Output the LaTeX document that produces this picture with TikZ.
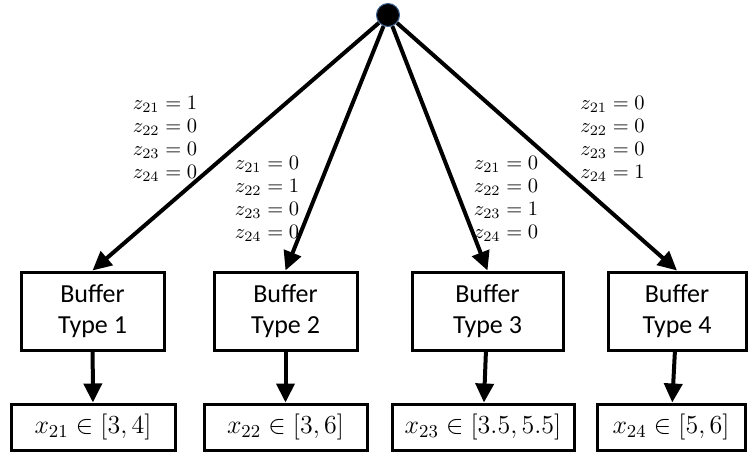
\documentclass[tikz,border=0pt]{standalone}
\usepackage{fix-cm}
\usepackage{fontspec}
\usepackage{tikz}
\usetikzlibrary{arrows.meta}
\newfontfamily\calibri{Carlito}
\definecolor{rootedge}{RGB}{56,93,138}

\begin{document}
\begin{tikzpicture}[x=0.5pt, y=-0.5pt,
        buffer/.style={draw, line width=1.5pt, minimum height=39pt, inner sep=0pt, align=center, font=\calibri\fontsize{13}{15.5}\selectfont},
        value/.style={draw, line width=1.5pt, minimum height=23pt, inner sep=0pt, font=\fontsize{13}{15.5}\selectfont},
        zlabel/.style={align=left, inner sep=0pt, font=\fontsize{10.25}{11.6}\selectfont},
        link/.style={line width=2pt, -{Triangle[length=9.5pt, width=9pt]}}]
        \useasboundingbox (0,0) rectangle (751,451);

        \node[circle, fill=black, draw=rootedge, line width=0.5pt, minimum size=11.5pt, inner sep=0pt] (root) at (388,15) {};

        % buffer types
        \node[buffer, minimum width=71.5pt] (b1) at (92.5,311) {Buffer\\Type 1};
        \node[buffer, minimum width=71.5pt] (b2) at (285.5,311) {Buffer\\Type 2};
        \node[buffer, minimum width=75.5pt] (b3) at (487.5,311) {Buffer\\Type 3};
        \node[buffer, minimum width=69pt] (b4) at (677,311) {Buffer\\Type 4};

        % ranges
        \node[value, minimum width=82pt] (v1) at (93,427) {$x_{21}\in[3,4]$};
        \node[value, minimum width=81.5pt] (v2) at (285.5,427) {$x_{22}\in[3,6]$};
        \node[value, minimum width=91pt] (v3) at (483,427) {$x_{23}\in[3.5,5.5]$};
        \node[value, minimum width=74pt] (v4) at (671,427) {$x_{24}\in[5,6]$};

        % choices
        \node[zlabel] (z1) at (165,139) {$z_{21}=1$\\$z_{22}=0$\\$z_{23}=0$\\$z_{24}=0$};
        \node[zlabel] (z2) at (267,199) {$z_{21}=0$\\$z_{22}=1$\\$z_{23}=0$\\$z_{24}=0$};
        \node[zlabel] (z3) at (506,199) {$z_{21}=0$\\$z_{22}=0$\\$z_{23}=1$\\$z_{24}=0$};
        \node[zlabel] (z4) at (612.5,139) {$z_{21}=0$\\$z_{22}=0$\\$z_{23}=0$\\$z_{24}=1$};

        \draw[link] (root) -- (b1.north);
        \draw[link] (root) -- (b2.north);
        \draw[link] (root) -- (b3.north);
        \draw[link] (root) -- (b4.north);

        \draw[link] (b1) -- (v1);
        \draw[link] (b2) -- (v2);
        \draw[link] (b3) -- (v3);
        \draw[link] (b4) -- (v4);
    \end{tikzpicture}
\end{document}
